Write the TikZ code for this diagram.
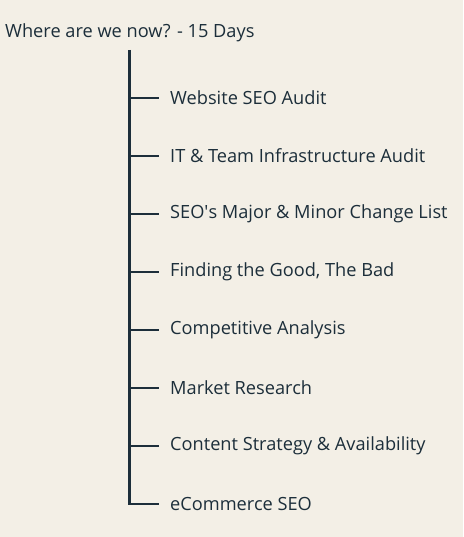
\documentclass[tikz,border=0pt]{standalone}
\usepackage{fontspec}
\setmainfont{Open Sans}
\definecolor{paper}{HTML}{F3EFE6}
\definecolor{ink}{HTML}{1C2E3A}
\newcommand{\straightap}{\XeTeXglyph\XeTeXcharglyph"0027\relax}
\begin{document}
\begin{tikzpicture}[x=1pt,y=-1pt,
  item/.style={anchor=west,inner sep=0pt,text=ink,font=\fontsize{18.2}{21}\selectfont},
  stem/.style={draw=ink,line width=3pt},
  branch/.style={draw=ink,line width=2.6pt}]
\fill[paper] (0,0) rectangle (463,537);
\useasboundingbox (0,0) rectangle (463,537);
\node[item] (title) at (5,33) {Where are we now? - 15 Days};
\coordinate (top) at (129.5,50);
\coordinate (bot) at (129.5,505.3);
\draw[stem] (top) -- (bot);
\foreach \t [count=\i] in {Website SEO Audit,IT \& Team Infrastructure Audit,SEO\straightap s Major \& Minor Change List,{Finding the Good, The Bad},Competitive Analysis,Market Research,Content Strategy \& Availability,eCommerce SEO}{
  \pgfmathsetmacro{\yy}{98+58*(\i-1)}
  \coordinate (j\i) at (128,\yy);
  \node[item] (n\i) at (170,\yy) {\t};
  \draw[branch] (j\i) -- ([xshift=-11pt]n\i.west);
}
\end{tikzpicture}
\end{document}
